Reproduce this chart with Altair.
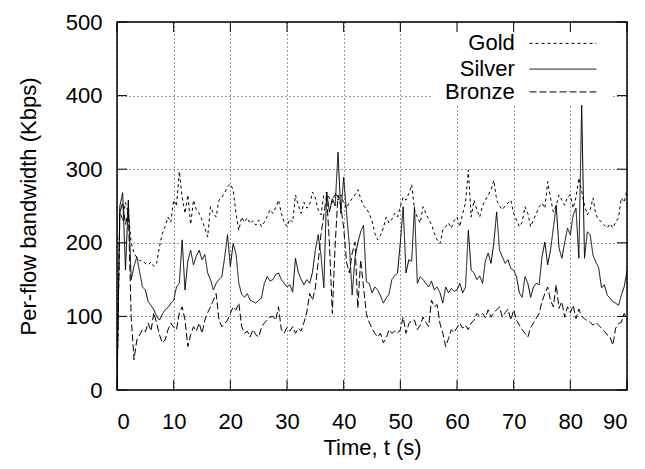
import altair as alt
import pandas as pd

times = [i * 0.5 for i in range(181)]

gold = [0, 245, 230, 255, 240, 200, 186, 180, 176, 175, 172, 170, 174, 168, 172, 195,
        213, 222, 235, 228, 258, 250, 297, 262, 240, 265, 225, 258, 245, 240, 231, 220,
        208, 249, 240, 235, 258, 262, 268, 276, 280, 272, 240, 217, 235, 228, 234, 226,
        230, 224, 231, 222, 228, 236, 245, 240, 248, 258, 240, 228, 222, 232, 228, 265,
        251, 240, 255, 247, 252, 269, 261, 245, 238, 265, 269, 260, 255, 268, 258, 265,
        255, 247, 255, 260, 265, 272, 260, 250, 247, 240, 230, 213, 204, 210, 220, 235,
        227, 232, 240, 235, 249, 262, 258, 267, 279, 245, 235, 227, 249, 240, 232, 225,
        213, 204, 199, 217, 222, 227, 220, 230, 235, 222, 240, 254, 299, 235, 258, 245,
        235, 250, 258, 265, 272, 285, 258, 250, 245, 250, 254, 258, 240, 231, 222, 228,
        249, 240, 222, 231, 240, 249, 254, 247, 283, 261, 242, 250, 265, 258, 251, 262,
        265, 247, 262, 288, 270, 251, 238, 245, 261, 238, 232, 228, 224, 220, 226, 220,
        228, 234, 261, 255, 272]

silver = [0, 250, 268, 163, 258, 150, 168, 181, 160, 140, 136, 120, 115, 109, 100, 95,
          103, 109, 112, 118, 122, 140, 145, 204, 136, 175, 190, 170, 182, 190, 177, 184,
          159, 150, 136, 145, 150, 154, 180, 211, 168, 199, 185, 145, 130, 126, 131, 122,
          120, 118, 122, 125, 145, 154, 148, 150, 157, 159, 150, 145, 140, 143, 133, 179,
          160, 150, 143, 150, 145, 160, 190, 211, 183, 139, 269, 242, 260, 250, 323, 240,
          289, 242, 197, 129, 180, 200, 215, 224, 147, 145, 132, 140, 136, 128, 118, 125,
          130, 150, 155, 159, 200, 249, 159, 177, 175, 249, 145, 154, 150, 145, 140, 148,
          136, 140, 132, 118, 140, 132, 138, 134, 136, 145, 132, 140, 217, 163, 159, 150,
          155, 145, 175, 186, 172, 200, 242, 190, 181, 172, 177, 165, 163, 154, 132, 126,
          154, 145, 126, 140, 145, 143, 181, 201, 170, 190, 220, 251, 193, 179, 200, 220,
          211, 238, 247, 179, 387, 179, 215, 211, 183, 174, 166, 139, 143, 129, 125, 120,
          118, 115, 129, 140, 162]

bronze = [0, 240, 255, 225, 245, 100, 41, 68, 75, 82, 79, 91, 80, 105, 91, 75,
          64, 68, 82, 91, 85, 82, 105, 113, 95, 59, 75, 86, 80, 91, 77, 95,
          105, 113, 122, 131, 95, 86, 90, 95, 104, 113, 109, 118, 86, 77, 80, 72,
          82, 75, 72, 85, 91, 95, 99, 100, 95, 113, 82, 77, 85, 80, 86, 77,
          84, 80, 92, 106, 131, 122, 139, 174, 211, 238, 265, 197, 104, 197, 265, 250,
          220, 174, 159, 186, 201, 111, 177, 140, 104, 92, 84, 77, 72, 77, 64, 70,
          82, 77, 80, 77, 82, 99, 77, 90, 95, 95, 82, 88, 99, 92, 86, 122,
          113, 116, 90, 77, 59, 70, 82, 78, 85, 91, 84, 88, 82, 91, 95, 104,
          100, 104, 98, 109, 99, 105, 109, 113, 99, 105, 110, 95, 109, 95, 88, 82,
          77, 72, 85, 91, 98, 104, 120, 131, 140, 122, 113, 143, 111, 120, 99, 113,
          105, 115, 97, 110, 100, 97, 94, 92, 88, 92, 88, 84, 80, 75, 72, 61,
          84, 90, 92, 104, 95]

series_names = ["Gold", "Silver", "Bronze"]
dash_patterns = [[3, 3], [1, 0], [7, 3]]

x_ticks = [0, 10, 20, 30, 40, 50, 60, 70, 80, 90]
y_ticks = [0, 100, 200, 300, 400, 500]

rows = []
for name, vals in zip(series_names, [gold, silver, bronze]):
    for t, v in zip(times, vals):
        rows.append({"t": t, "bw": v, "series": name})
df = pd.DataFrame(rows)

FONT = "Liberation Sans"
FS = 22
xs = alt.Scale(domain=[0, 90], nice=False, zero=False)
ys = alt.Scale(domain=[0, 500], nice=False)
dash_scale = alt.Scale(domain=series_names, range=dash_patterns)

x_axis = alt.Axis(values=x_ticks, ticks=False, domain=False, grid=True,
                  gridDash=[1, 3], gridColor="#000", gridOpacity=0.8,
                  labelFont=FONT, labelFontSize=FS, labelColor="#000",
                  labelPadding=21, title="Time, t (s)", titleFont=FONT,
                  titleFontSize=FS, titleFontWeight="normal", titleColor="#000",
                  titlePadding=5)
y_axis = alt.Axis(values=y_ticks, ticks=False, domain=False, grid=True,
                  gridDash=[1, 3], gridColor="#000", gridOpacity=0.8,
                  labelFont=FONT, labelFontSize=FS, labelColor="#000",
                  labelPadding=15, title="Per-flow bandwidth (Kbps)", titleFont=FONT,
                  titleFontSize=FS, titleFontWeight="normal", titleColor="#000",
                  titlePadding=25)

# white box behind the key (covers grid)
box_df = pd.DataFrame({"x1": [55.5], "x2": [87.3], "y1": [389], "y2": [498]})
box = alt.Chart(box_df).mark_rect(color="white").encode(
    x=alt.X("x1:Q", scale=xs, axis=x_axis), x2="x2:Q",
    y=alt.Y("y1:Q", scale=ys, axis=y_axis), y2="y2:Q")

# inward ticks on all four sides
tick_rows = []
for xv in x_ticks:
    tick_rows.append({"x": xv, "x2": xv, "y": 0, "y2": 13.6})
    tick_rows.append({"x": xv, "x2": xv, "y": 486.4, "y2": 500})
for yv in y_ticks:
    tick_rows.append({"x": 0, "x2": 1.76, "y": yv, "y2": yv})
    tick_rows.append({"x": 88.24, "x2": 90, "y": yv, "y2": yv})
ticks = alt.Chart(pd.DataFrame(tick_rows)).mark_rule(color="#000", strokeWidth=1).encode(
    x=alt.X("x:Q", scale=xs), x2="x2:Q", y=alt.Y("y:Q", scale=ys), y2="y2:Q")

lines = alt.Chart(df).mark_line(color="#000", strokeWidth=1, clip=True).encode(
    x=alt.X("t:Q", scale=xs),
    y=alt.Y("bw:Q", scale=ys),
    strokeDash=alt.StrokeDash("series:N", scale=dash_scale, legend=None),
    detail="series:N",
)

key_df = pd.DataFrame({"series": series_names, "lx": [70.2] * 3,
                       "sx": [72.8] * 3, "sx2": [84.6] * 3, "y": [471, 436, 405]})
key_text = alt.Chart(key_df).mark_text(align="right", baseline="middle", font=FONT,
                                       fontSize=FS, color="#000").encode(
    x=alt.X("lx:Q", scale=xs), y=alt.Y("y:Q", scale=ys), text="series:N")
key_lines = alt.Chart(key_df).mark_rule(color="#000", strokeWidth=1).encode(
    x=alt.X("sx:Q", scale=xs), x2="sx2:Q", y=alt.Y("y:Q", scale=ys),
    strokeDash=alt.StrokeDash("series:N", scale=dash_scale, legend=None))

chart = alt.layer(box, ticks, lines, key_text, key_lines).properties(
    width=510, height=368,
    autosize=alt.AutoSizeParams(type="none"),
    padding={"left": 109, "top": 14, "right": 10, "bottom": 71},
    background="white",
).configure_view(stroke="#000", strokeWidth=1.5)

chart.save("out.html", embed_options={"renderer": "svg", "actions": False})
